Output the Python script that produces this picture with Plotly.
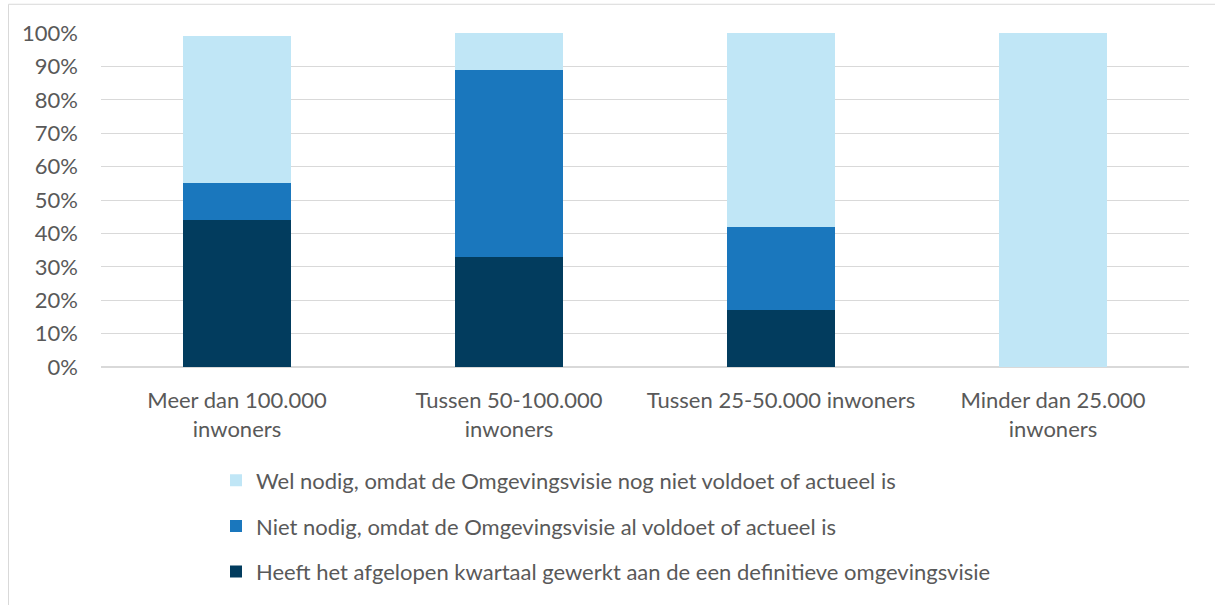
import plotly.graph_objects as go

categories = ["Meer dan 100.000<br>inwoners", "Tussen 50-100.000<br>inwoners",
              "Tussen 25-50.000 inwoners", "Minder dan 25.000<br>inwoners"]
series_names = [
    "Heeft het afgelopen kwartaal gewerkt aan de een definitieve omgevingsvisie",
    "Niet nodig, omdat de Omgevingsvisie al voldoet of actueel is",
    "Wel nodig, omdat de Omgevingsvisie nog niet voldoet of actueel is",
]
heeft = [44, 33, 17, 0]
niet_nodig = [11, 56, 25, 0]
wel_nodig = [44, 11, 58, 100]
colors = ["#023C5E", "#1A77BD", "#C0E6F6"]
y_ticks = list(range(0, 101, 10))
y_labels = [f"{v}%" for v in y_ticks]

W, H = 1215, 605
L, R, T, B = 101, 1189, 33, 376
FS = 22

fig = go.Figure()
for i, (name, vals) in enumerate(zip(series_names, [heeft, niet_nodig, wel_nodig])):
    fig.add_trace(go.Bar(x=categories, y=vals, name=name, marker_color=colors[i],
                         marker_line_width=0, legendgroup=f"g{i}", legendrank=3 - i))

fig.update_layout(
    width=W, height=H,
    barmode="stack", bargap=0.6,
    paper_bgcolor="white", plot_bgcolor="white",
    margin=dict(l=L, r=W - R, t=T, b=H - B, pad=0),
    font=dict(family="Lato", size=FS, color="#595959"),
    xaxis=dict(showgrid=False, showline=False, ticks="", tickfont=dict(size=FS),
               tickangle=0, automargin=False, ticklabelstandoff=18),
    yaxis=dict(range=[0, 100], tickvals=y_ticks, ticktext=y_labels, showgrid=True,
               gridcolor="#d9d9d9", gridwidth=1, zeroline=True, zerolinecolor="#d9d9d9",
               ticks="", ticklabelstandoff=22, automargin=False, tickfont=dict(size=FS)),
    legend=dict(orientation="v", x=(216 - L) / (R - L), xanchor="left",
                y=(B - 471) / (B - T), yanchor="top", traceorder="grouped",
                tracegroupgap=14, font=dict(size=FS, color="#595959"),
                itemwidth=30, bgcolor="rgba(0,0,0,0)"),
    showlegend=True,
)

def px_x(p):
    return (p - L) / (R - L)

def px_y(p):
    return (B - p) / (B - T)

fig.add_shape(type="rect", xref="paper", yref="paper", x0=px_x(8.5), x1=px_x(W + 20),
              y0=px_y(H + 20), y1=px_y(3.5), line=dict(color="#d9d9d9", width=1),
              fillcolor="rgba(0,0,0,0)", layer="below")

fig.write_html("out.html", config={"displayModeBar": False},
               post_script="document.body.style.margin='0';document.body.style.overflow='hidden';")
